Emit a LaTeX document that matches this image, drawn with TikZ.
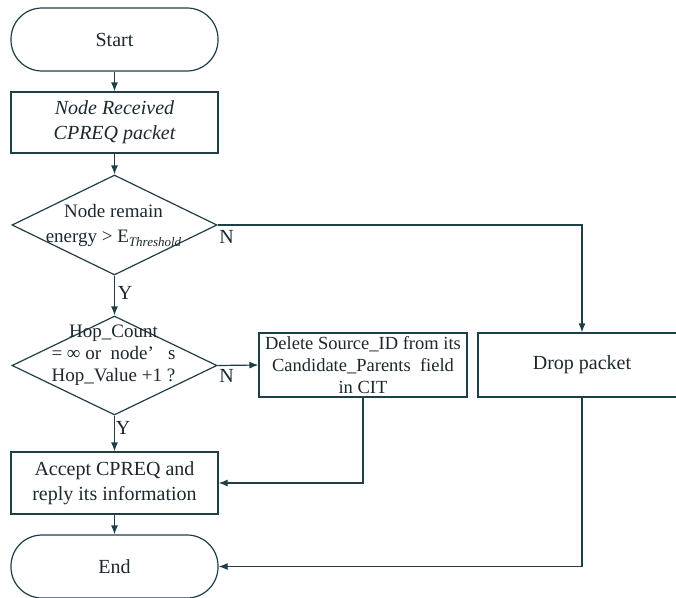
\documentclass[tikz,border=0pt]{standalone}
\usepackage{fontspec}
\setmainfont{Liberation Serif}
\usetikzlibrary{shapes.geometric,arrows.meta}
\definecolor{linec}{RGB}{32,62,72}
\definecolor{textc}{RGB}{28,40,46}
\tikzset{
  box/.style={draw=linec, line width=1.2pt, rectangle, inner sep=0pt, align=center, text=textc},
  term/.style={box, rounded corners=31pt},
  dec/.style={draw=linec, line width=1.2pt, diamond, inner sep=0pt},
  dtext/.style={inner sep=0pt, text=textc, font=\fontsize{19}{22}\selectfont},
  lbl/.style={inner sep=0pt, text=textc, font=\fontsize{20}{24}\selectfont},
  conn/.style={draw=linec, line width=1.2pt, -{Latex[length=9pt,width=7pt]}},
}
\begin{document}
\begin{tikzpicture}[x=1pt,y=-1pt]
\useasboundingbox (0,0) rectangle (676,597);
\clip (0,0) rectangle (676,597);
\fill[white] (0,0) rectangle (676,597);
\node[term, minimum width=207pt, minimum height=63pt, font=\fontsize{20}{24}\selectfont] (start) at (114.5,39.5) {Start};
\node[box, minimum width=207pt, minimum height=61pt, font=\fontsize{20}{25}\selectfont\itshape] (recv) at (114.5,122.5) {Node Received\\CPREQ packet};
\node[dec, minimum width=205pt, minimum height=100pt] (d1) at (114.5,225) {};
\node[dtext, align=center] (d1t) at (113.5,225.5) {Node remain\\[3pt]energy > E\raisebox{-4pt}{\fontsize{13}{13}\selectfont\itshape Threshold}};
\node[dec, minimum width=205pt, minimum height=99pt] (d2) at (114.5,365.5) {};
\node[dtext, align=center] (d2t) at (113.5,355) {Hop\_Count\\= ∞ or\ \ node’\ \ \ s\\Hop\_Value +1 ?};
\node[box, minimum width=208pt, minimum height=64pt, font=\fontsize{18.5}{22}\selectfont] (del) at (363,365) {Delete Source\_ID from its\\Candidate\_Parents\ \ field\\in CIT};
\node[box, minimum width=208pt, minimum height=64pt, font=\fontsize{20}{24}\selectfont] (drop) at (582,365) {Drop packet};
\node[box, minimum width=207pt, minimum height=62pt, font=\fontsize{20}{25}\selectfont] (acc) at (114.5,483) {Accept CPREQ and\\reply its information};
\node[term, minimum width=207pt, minimum height=63pt, font=\fontsize{20}{24}\selectfont] (end) at (114.5,566.5) {End};
\draw[conn] (start) -- (recv);
\draw[conn] (recv) -- (d1);
\draw[conn] (d1) -- (d2);
\draw[conn] (d1.east) -| (drop.north);
\draw[conn] (d2.east) -- (del.west);
\draw[conn] (d2) -- (acc);
\draw[conn] (del.south) |- (acc.east);
\draw[conn] (acc) -- (end);
\draw[conn] (drop.south) |- (end.east);
\node[lbl] (n1) at (226.5,237) {N};
\node[lbl] (y1) at (125,293) {Y};
\node[lbl] (n2) at (226.5,376) {N};
\node[lbl] (y2) at (123,428) {Y};
\end{tikzpicture}
\end{document}
